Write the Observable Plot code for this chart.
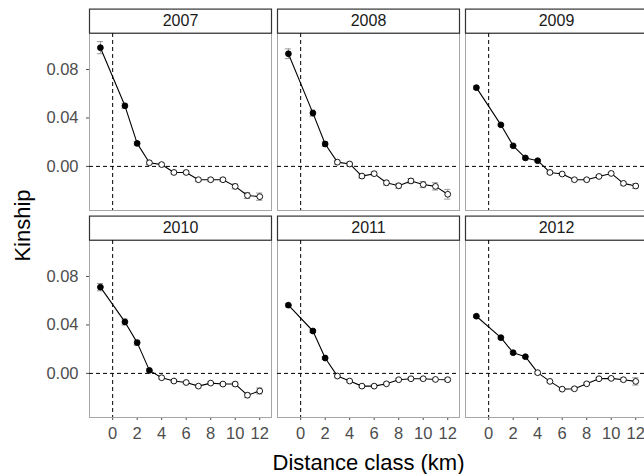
<!DOCTYPE html>
<html>
<head>
<meta charset="utf-8">
<script src="https://cdn.jsdelivr.net/npm/d3@7"></script>
<script src="https://cdn.jsdelivr.net/npm/@observablehq/plot@0.6"></script>
<style>
  html, body { margin: 0; padding: 0; background: white; overflow: hidden; }
  #chart { width: 644px; height: 474px; }
</style>
</head>
<body>
<div id="chart"></div>
<script>
// ---- data ----
const years = ["2007", "2008", "2009", "2010", "2011", "2012"];
const distance = [-1, 1, 2, 3, 4, 5, 6, 7, 8, 9, 10, 11, 12];

const k2007 = [0.098, 0.050, 0.019, 0.003, 0.0015, -0.005, -0.005, -0.011, -0.011, -0.011, -0.0165, -0.024, -0.025];
const k2008 = [0.093, 0.044, 0.0185, 0.0035, 0.002, -0.008, -0.006, -0.0135, -0.016, -0.012, -0.015, -0.0165, -0.023];
const k2009 = [0.065, 0.0343, 0.017, 0.007, 0.0047, -0.005, -0.0063, -0.011, -0.011, -0.0083, -0.0058, -0.014, -0.0162];
const k2010 = [0.0712, 0.0425, 0.0254, 0.0025, -0.0036, -0.0063, -0.0075, -0.0105, -0.008, -0.0088, -0.0088, -0.018, -0.0145];
const k2011 = [0.0563, 0.035, 0.0127, -0.0022, -0.0063, -0.0105, -0.0105, -0.0086, -0.0052, -0.0044, -0.0044, -0.005, -0.0052];
const k2012 = [0.0472, 0.0295, 0.0171, 0.0138, 0.0006, -0.0066, -0.013, -0.0127, -0.0086, -0.0044, -0.0041, -0.0052, -0.0066];

const se2007 = [0.005, 0.002, 0.0015, 0.0015, 0.0012, 0.0012, 0.0012, 0.0015, 0.0015, 0.0015, 0.002, 0.0025, 0.003];
const se2008 = [0.004, 0.0025, 0.002, 0.0015, 0.0015, 0.0015, 0.0015, 0.002, 0.002, 0.002, 0.0025, 0.003, 0.004];
const se2009 = [0.0015, 0.001, 0.001, 0.001, 0.001, 0.001, 0.001, 0.001, 0.001, 0.001, 0.001, 0.0015, 0.002];
const se2010 = [0.003, 0.0025, 0.002, 0.0015, 0.001, 0.001, 0.001, 0.001, 0.001, 0.001, 0.0015, 0.002, 0.0025];
const se2011 = [0.0015, 0.0012, 0.001, 0.001, 0.001, 0.001, 0.001, 0.001, 0.001, 0.001, 0.001, 0.001, 0.0015];
const se2012 = [0.0012, 0.001, 0.001, 0.001, 0.001, 0.001, 0.0012, 0.0012, 0.001, 0.001, 0.001, 0.0015, 0.003];

// number of leading (significant, filled) distance classes per year
const sigCount = [3, 3, 5, 4, 3, 4];

const xTicks = [0, 2, 4, 6, 8, 10, 12];
const yTicks = [0, 0.04, 0.08];
const xLabel = "Distance class (km)";
const yLabel = "Kinship";

// ---- table for the library ----
const kin = [k2007, k2008, k2009, k2010, k2011, k2012];
const ses = [se2007, se2008, se2009, se2010, se2011, se2012];
const rows = [];
years.forEach((yr, i) => {
  distance.forEach((x, j) => {
    rows.push({
      year: yr, col: i % 3, row: Math.floor(i / 3),
      x, k: kin[i][j], se: ses[i][j], sig: j < sigCount[i]
    });
  });
});
const strips = years.map((yr, i) => ({year: yr, col: i % 3, row: Math.floor(i / 3)}));

// ---- layout ----
const W = 644, H = 474;
const mTop = 32.7, mBottom = 56.7, mLeft = 88.5, mRight = -3;
const fyPad = 0.1447, fxPad = 0.0332;
const fyStep = (H - mTop - mBottom) / (2 - fyPad);
const bandH = fyStep * (1 - fyPad);
const stripH = 24.4;

const font = "'Liberation Sans', Arial, Helvetica, sans-serif";

const chart = Plot.plot({
  width: W, height: H,
  marginTop: mTop, marginBottom: mBottom, marginLeft: mLeft, marginRight: mRight,
  style: {fontFamily: font, fontSize: "16.5px", color: "#4d4d4d", background: "white", overflow: "hidden"},
  fx: {domain: [0, 1, 2], axis: null, paddingInner: fxPad, paddingOuter: 0, label: null},
  fy: {domain: [0, 1], axis: null, paddingInner: fyPad, paddingOuter: 0, label: null},
  x: {domain: [-1.89, 12.96], ticks: xTicks, tickSize: 3, tickPadding: 7, label: null, tickFormat: d3.format("d")},
  y: {domain: [-0.0364, 0.1097], ticks: yTicks, tickSize: 3, tickPadding: 8, label: null, tickFormat: d3.format(".2f")},
  color: {type: "identity"},
  marks: [
    // panel border
    Plot.frame({stroke: "#a6a6a6", strokeWidth: 1}),
    // strip
    Plot.frame({fill: "white", stroke: "#333333", strokeWidth: 1.2, insetTop: -stripH, insetBottom: bandH}),
    Plot.text(strips, {fx: "col", fy: "row", text: "year", frameAnchor: "top", lineAnchor: "middle",
      dy: -stripH / 2, fill: "#1a1a1a", fontSize: 16}),
    // reference lines
    Plot.ruleY([0], {stroke: "black", strokeDasharray: "4,3", strokeWidth: 1}),
    Plot.ruleX([0], {stroke: "black", strokeDasharray: "4,3", strokeWidth: 1}),
    // error bars
    Plot.ruleX(rows, {fx: "col", fy: "row", x: "x", y1: d => d.k - d.se, y2: d => d.k + d.se, stroke: "#9a9a9a", strokeWidth: 1}),
    Plot.ruleY(rows, {fx: "col", fy: "row", y: d => d.k + d.se, x1: d => d.x - 0.25, x2: d => d.x + 0.25, stroke: "#9a9a9a", strokeWidth: 1}),
    Plot.ruleY(rows, {fx: "col", fy: "row", y: d => d.k - d.se, x1: d => d.x - 0.25, x2: d => d.x + 0.25, stroke: "#9a9a9a", strokeWidth: 1}),
    // series
    Plot.line(rows, {fx: "col", fy: "row", x: "x", y: "k", stroke: "black", strokeWidth: 1.1}),
    Plot.dot(rows, {fx: "col", fy: "row", x: "x", y: "k", r: 2.9,
      fill: d => d.sig ? "black" : "white", stroke: "black", strokeWidth: 0.9}),
    // axis titles
    Plot.text([{col: 1, row: 1}], {fx: "col", fy: "row", text: () => xLabel, frameAnchor: "bottom",
      lineAnchor: "middle", dy: 45.7, fill: "black", fontSize: 22}),
    Plot.text([{col: 0, row: 0}], {fx: "col", fy: "row", text: () => yLabel, frameAnchor: "bottom-left",
      rotate: -90, dx: -66.5, dy: 15, fill: "black", fontSize: 22, textAnchor: "middle", lineAnchor: "middle"})
  ]
});
document.getElementById("chart").appendChild(chart);
</script>
</body>
</html>
